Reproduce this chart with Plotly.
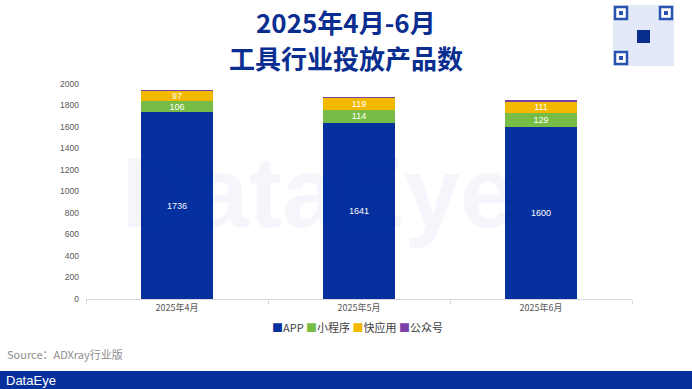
import plotly.graph_objects as go

months = ["2025年4月", "2025年5月", "2025年6月"]
series_names = ["APP", "小程序", "快应用", "公众号"]
app = [1736, 1641, 1600]
mini = [106, 114, 129]
quick = [97, 119, 111]
gzh = [3, 5, 4]
colors = ["#05309e", "#77bd45", "#f2b900", "#7b3fa8"]
y_ticks = [0, 200, 400, 600, 800, 1000, 1200, 1400, 1600, 1800, 2000]

W, H = 692, 389
L, R, T, B = 86, 632, 84, 299


def px(x):
    return (x - L) / (R - L)


def py(y):
    return (B - y) / (B - T)


def note(text, x, y, size, color, xanchor="center", family="Noto Sans CJK SC"):
    fig.add_annotation(text=text, x=px(x), y=py(y), xref="paper", yref="paper",
                       xanchor=xanchor, yanchor="middle", showarrow=False,
                       font=dict(size=size, color=color, family=family))


fig = go.Figure()
for name, vals, col in zip(series_names, [app, mini, quick, gzh], colors):
    show_text = name != "公众号"
    fig.add_trace(go.Bar(
        name=name, x=months, y=vals, marker=dict(color=col, line=dict(width=0)),
        text=[str(v) for v in vals] if show_text else None,
        texttemplate="%{text}" if show_text else None,
        textposition="inside" if show_text else "none",
        insidetextanchor="middle",
        textfont=dict(color="white", size=9, family="Liberation Sans, Arial"),
        constraintext="none",
    ))

fig.update_layout(
    barmode="stack",
    bargap=0.6,
    width=W, height=H,
    margin=dict(l=L, r=W - R, t=T, b=H - B, autoexpand=False),
    plot_bgcolor="white", paper_bgcolor="white",
    font=dict(family="Liberation Sans, Arial", color="#595959", size=8),
    uniformtext=dict(minsize=8, mode="show"),
    showlegend=False,
    xaxis=dict(showline=True, linecolor="#d9d9d9", linewidth=1, ticks="outside",
               tickson="boundaries", ticklen=4, tickcolor="#d9d9d9",
               tickfont=dict(size=9, color="#595959", family="Noto Sans CJK SC"),
               fixedrange=True),
    yaxis=dict(range=[0, 2000], tickvals=y_ticks, showgrid=False, zeroline=False,
               showline=False, ticks="", tickfont=dict(size=8.5, color="#595959"),
               ticklabelstandoff=6),
)

# watermark
note("<b>DataEye</b>", 318, 192, 100, "rgba(5,48,160,0.045)", family="Liberation Sans, Arial")

# title
note("<b>2025年4月-6月</b>", 346, 22, 26, "#0a2e8f")
note("<b>工具行业投放产品数</b>", 346, 57, 26, "#0a2e8f")

# legend (custom, compact)
legend_text = "&nbsp;".join(
    f"<span style='color:{c}'>■</span>{n}" for n, c in zip(series_names, colors))
note(legend_text, 357, 327, 11, "#404040")

# source
note("Source：ADXray行业版", 5, 354, 11, "#8c8c8c", xanchor="left")

# bottom banner
fig.add_shape(type="rect", xref="paper", yref="paper", x0=px(0), x1=px(692), y0=py(371), y1=py(390),
              fillcolor="#06309b", line=dict(width=0))
note("DataEye", 4, 380, 13, "white", xanchor="left", family="Liberation Sans, Arial")

# QR code placeholder (decorative)
qx0, qy0, qs = 613, 5, 61
fig.add_shape(type="rect", xref="paper", yref="paper", x0=px(qx0), x1=px(qx0 + qs),
              y0=py(qy0 + qs), y1=py(qy0), fillcolor="#e3e9f6", line=dict(width=0))
for fx, fy in [(qx0 + 2, qy0 + 2), (qx0 + qs - 14, qy0 + 2), (qx0 + 2, qy0 + qs - 14)]:
    fig.add_shape(type="rect", xref="paper", yref="paper", x0=px(fx), x1=px(fx + 12),
                  y0=py(fy + 12), y1=py(fy), fillcolor="white",
                  line=dict(width=2.5, color="#2a52b0"))
    fig.add_shape(type="rect", xref="paper", yref="paper", x0=px(fx + 4), x1=px(fx + 8),
                  y0=py(fy + 8), y1=py(fy + 4), fillcolor="#2a52b0", line=dict(width=0))
fig.add_shape(type="rect", xref="paper", yref="paper", x0=px(qx0 + 24), x1=px(qx0 + 37),
              y0=py(qy0 + 38), y1=py(qy0 + 25), fillcolor="#0a2e8f", line=dict(width=0))

fig.write_html("out.html", config={"displayModeBar": False},
               post_script="document.body.style.margin='0';")
